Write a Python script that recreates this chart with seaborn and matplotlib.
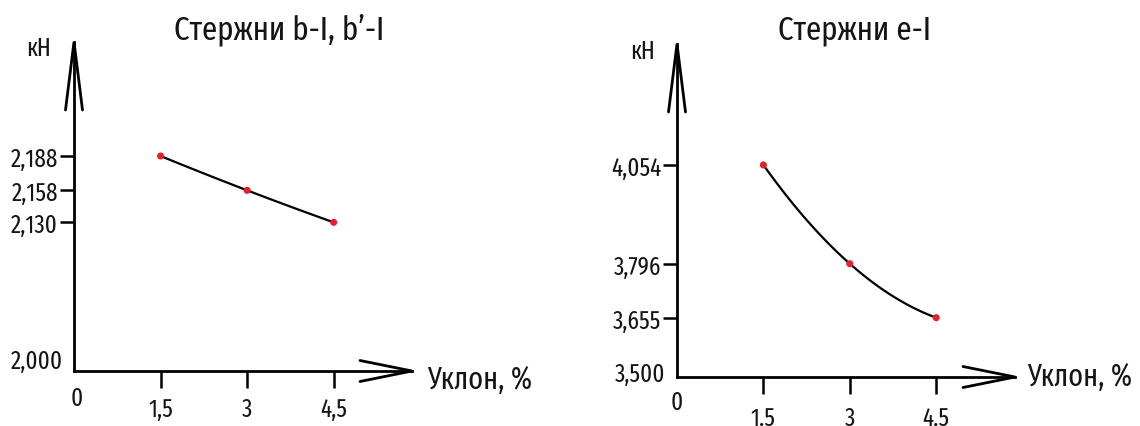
import numpy as np
import pandas as pd
import matplotlib
matplotlib.use("Agg")
import matplotlib.pyplot as plt
import seaborn as sns
from matplotlib import font_manager

# Slope of the roof (%) and the axial force in the members (kN)
slope = [1.5, 3.0, 4.5]
force_b = [2.188, 2.158, 2.130]
force_e = [4.054, 3.796, 3.655]
xtick_b = ["1,5", "3", "4,5"]
xtick_e = ["1.5", "3", "4.5"]
ytick_b = ["2,188", "2,158", "2,130"]
ytick_e = ["4,054", "3,796", "3,655"]
base_b, base_e = 2.000, 3.500
base_label_b, base_label_e = "2,000", "3,500"
title_b = "Стержни b-I, b’-I"
title_e = "Стержни e-I"
unit_label = "кН"
slope_label = "Уклон, %"

sns.set_theme(style="white")
installed = {f.name for f in font_manager.fontManager.ttflist}
main_font = next((n for n in ("Fira Sans Extra Condensed", "Roboto Condensed",
                              "PT Sans Narrow", "DejaVu Sans")
                  if n in installed), "DejaVu Sans")
plt.rcParams["font.family"] = [main_font, "DejaVu Sans"]
plt.rcParams["text.color"] = "#151515"

W, H = 1140, 427
fig = plt.figure(figsize=(W / 100, H / 100), dpi=100)
fig.patch.set_facecolor("white")

TICK_SIZE = 18
TITLE_SIZE = 24
UNIT_SIZE = 18
SLOPE_SIZE = 22


def rect(x0, y0, x1, y1):
    """Pixel box (top-left origin) -> figure fraction rectangle."""
    return [x0 / W, 1 - y1 / H, (x1 - x0) / W, (y1 - y0) / H]


def ptext(x, y, s, size, ha="center", va="center"):
    fig.text(x / W, 1 - y / H, s, fontsize=size, ha=ha, va=va)


def panel(box, xmax, ylim, ys, xticks, yticks, xpad):
    ax = fig.add_axes(rect(*box))
    pts = pd.DataFrame({"slope": slope, "force": ys})
    coef = np.polyfit(slope, ys, 2)
    xs = np.linspace(slope[0], slope[-1], 120)
    curve = pd.DataFrame({"slope": xs, "force": np.polyval(coef, xs)})
    sns.lineplot(data=curve, x="slope", y="force", color="black",
                 linewidth=1.6, ax=ax)
    sns.scatterplot(data=pts, x="slope", y="force", color="#e3202c",
                    s=26, edgecolor="none", ax=ax, zorder=3)
    ax.set_xlim(0, xmax)
    ax.set_ylim(*ylim)
    ax.set_xlabel("")
    ax.set_ylabel("")
    ax.set_facecolor("white")
    for side in ("top", "right"):
        ax.spines[side].set_visible(False)
    for side in ("left", "bottom"):
        ax.spines[side].set_color("black")
        ax.spines[side].set_linewidth(2.0)
    ax.set_xticks(slope, xticks)
    ax.set_yticks(ys, yticks)
    ax.tick_params(axis="x", bottom=True, direction="out", length=12.5,
                   width=1.8, pad=xpad, labelsize=TICK_SIZE, color="black",
                   labelcolor="#151515")
    ax.tick_params(axis="y", left=True, direction="out", length=10,
                   width=1.8, pad=1.5, labelsize=TICK_SIZE, color="black",
                   labelcolor="#151515")
    # open arrowheads at the ends of both axes
    w = box[2] - box[0]
    h = box[3] - box[1]
    ax.plot([-8.5 / w, 0, 8.5 / w], [1 - 68 / h, 1, 1 - 68 / h],
            transform=ax.transAxes, clip_on=False, color="black", lw=2.0,
            solid_joinstyle="miter")
    ax.plot([1 - 52 / w, 1, 1 - 52 / w], [10.5 / h, 0, -10.5 / h],
            transform=ax.transAxes, clip_on=False, color="black", lw=2.0,
            solid_joinstyle="miter")
    return ax


panel((74, 43, 412, 372), 338 / 57.7, (base_b, base_b + 0.2877),
      force_b, xtick_b, ytick_b, xpad=6)
panel((677, 45, 1015, 378), 338 / 57.6, (base_e, base_e + 0.870),
      force_e, xtick_e, ytick_e, xpad=8)

# left panel texts
ptext(279, 30, title_b, TITLE_SIZE)
ptext(39, 49, unit_label, UNIT_SIZE)
ptext(427, 380, slope_label, SLOPE_SIZE, ha="left")
ptext(63, 362, base_label_b, TICK_SIZE, ha="right")
ptext(77, 399, "0", TICK_SIZE)

# right panel texts
ptext(855, 30, title_e, TITLE_SIZE)
ptext(642, 52, unit_label, UNIT_SIZE)
ptext(1027, 377, slope_label, SLOPE_SIZE, ha="left")
ptext(665, 375, base_label_e, TICK_SIZE, ha="right")
ptext(677, 403, "0", TICK_SIZE)

fig.savefig("out.png", dpi=100, facecolor="white")
